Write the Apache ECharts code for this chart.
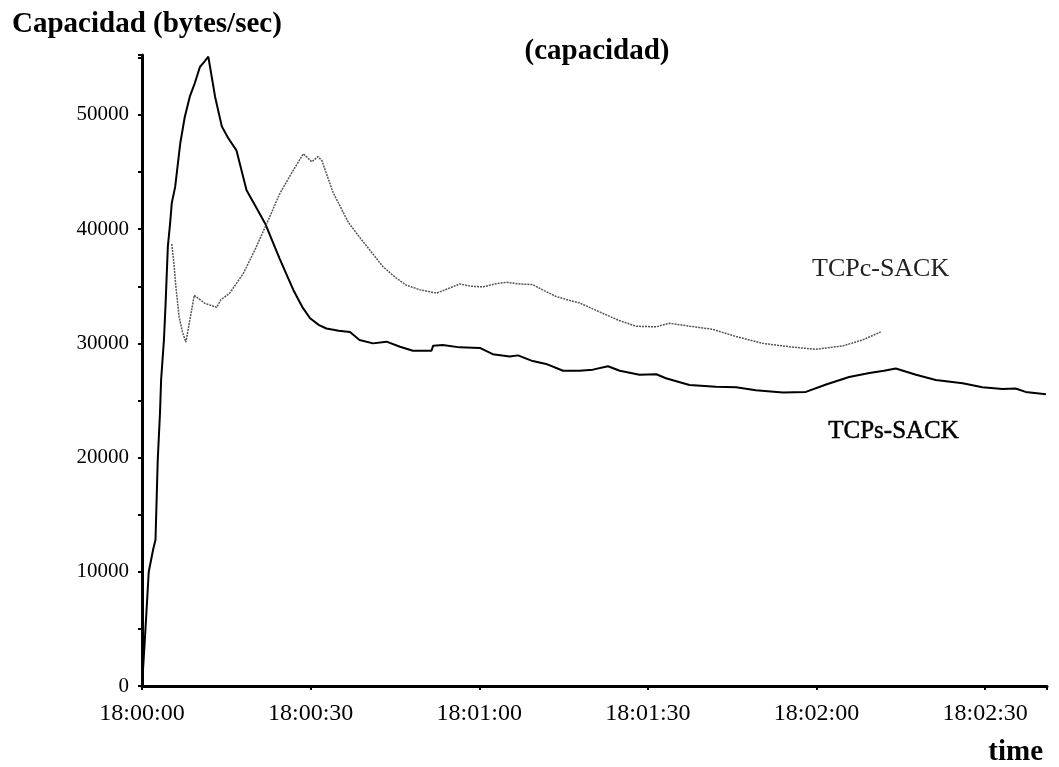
<!DOCTYPE html>
<html>
<head>
<meta charset="utf-8">
<script src="https://cdn.jsdelivr.net/npm/echarts@6/dist/echarts.min.js"></script>
<style>html,body{margin:0;padding:0;background:#fff;}#c{width:1059px;height:767px;}</style>
</head>
<body>
<div id="c"></div>
<script>
// Time in seconds after 18:00:00
const tcpsTime = [0, 0.5, 1.2, 2.0, 2.4, 2.8, 3.2, 3.4, 3.9, 4.2, 4.6, 5.0, 5.3, 5.9, 6.8, 7.6, 8.5, 9.4, 10.3, 11.0, 11.8, 13.0, 14.2, 15.3, 16.8, 18.6, 20.2, 21.9, 24.5, 26.9, 28.5, 29.9, 31.5, 32.8, 35.0, 37.0, 38.7, 41.1, 43.5, 45.9, 48.2, 51.5, 51.8, 53.5, 56.5, 60.1, 62.4, 65.4, 66.9, 69.5, 71.9, 74.9, 77.8, 80.2, 82.9, 85.0, 88.5, 91.5, 93.2, 97.4, 102.1, 105.7, 109.2, 114.0, 118.1, 121.7, 125.8, 129.4, 132.0, 134.1, 137.7, 141.2, 146.0, 149.5, 153.1, 155.4, 157.2, 160.8];
const tcpsValue = [0, 4000, 10000, 12000, 12800, 19800, 23900, 26800, 30300, 33500, 38500, 40500, 42300, 43700, 47500, 49800, 51600, 52800, 54200, 54600, 55100, 51600, 49000, 48000, 46900, 43400, 42000, 40500, 37400, 34700, 33200, 32200, 31600, 31300, 31100, 31000, 30300, 30000, 30150, 29700, 29350, 29350, 29800, 29850, 29650, 29600, 29050, 28850, 28950, 28450, 28200, 27600, 27600, 27700, 28000, 27600, 27250, 27300, 26950, 26350, 26200, 26150, 25900, 25700, 25750, 26400, 27050, 27400, 27600, 27800, 27250, 26800, 26500, 26150, 26000, 26050, 25750, 25550];

const tcpcTime = [5.3, 5.7, 6.0, 6.6, 7.2, 7.8, 9.3, 11.2, 13.3, 14.0, 15.6, 18.0, 20.1, 22.2, 24.5, 26.6, 28.7, 30.2, 31.3, 32.0, 34.0, 36.7, 38.7, 40.8, 42.9, 45.0, 47.0, 49.4, 52.4, 54.5, 56.5, 58.6, 60.7, 62.7, 64.8, 67.2, 69.5, 71.6, 73.7, 75.8, 77.8, 79.6, 81.4, 84.9, 87.9, 91.5, 93.8, 97.5, 101.5, 105.7, 110.4, 115.2, 119.9, 124.6, 128.2, 131.4];
const tcpcValue = [38700, 36900, 35100, 32300, 31000, 30100, 34200, 33500, 33150, 33800, 34400, 36100, 38200, 40500, 43100, 44900, 46600, 45900, 46350, 46000, 43200, 40600, 39300, 38000, 36700, 35800, 35100, 34700, 34400, 34800, 35200, 35000, 34950, 35200, 35350, 35200, 35150, 34600, 34100, 33800, 33550, 33150, 32750, 32000, 31500, 31450, 31760, 31500, 31230, 30600, 30000, 29700, 29480, 29770, 30300, 31000];

const seriesNames = ['TCPs-SACK', 'TCPc-SACK'];
const titleText = '(capacidad)';
const yName = 'Capacidad (bytes/sec)';
const xName = 'time';

const zip = (a, b) => a.map((t, i) => [t, b[i]]);
const serif = '"Liberation Serif", "DejaVu Serif", serif';

const chart = echarts.init(document.getElementById('c'));
chart.setOption({
  animation: false,
  backgroundColor: '#fff',
  title: [
    { text: yName, left: 7, top: 5, textStyle: { fontFamily: serif, fontWeight: 'bold', fontSize: 29, color: '#000' } },
    { text: titleText, left: 592, top: 32, textAlign: 'center', textStyle: { fontFamily: serif, fontWeight: 'bold', fontSize: 29, color: '#000' } },
    { text: xName, right: 11, top: 733, textStyle: { fontFamily: serif, fontWeight: 'bold', fontSize: 29, color: '#000' } }
  ],
  grid: { left: 142, right: 12, top: 55, bottom: 81, containLabel: false },
  xAxis: {
    type: 'value', min: 0, max: 161, interval: 30,
    axisLine: { lineStyle: { color: '#000', width: 3 } },
    axisTick: { show: true, length: 4, inside: false, lineStyle: { color: '#000', width: 2 } },
    splitLine: { show: false },
    axisLabel: {
      fontFamily: serif, fontSize: 24, color: '#000', margin: 16,
      formatter: function (t) {
        if (t % 30 !== 0) return '';
        const m = Math.floor(t / 60), s = t % 60;
        return '18:0' + m + ':' + (s < 10 ? '0' + s : s);
      }
    }
  },
  yAxis: {
    type: 'value', min: 0, max: 55250, interval: 5000,
    axisLine: { show: true, lineStyle: { color: '#000', width: 3 } },
    axisTick: { show: true, length: 4, lineStyle: { color: '#000', width: 2 } },
    splitLine: { show: false },
    axisLabel: {
      fontFamily: serif, fontSize: 21, color: '#000', margin: 13,
      formatter: function (v) { return v % 10000 === 0 ? String(v) : ''; }
    }
  },
  series: [
    {
      name: seriesNames[0], type: 'line', data: zip(tcpsTime, tcpsValue),
      showSymbol: false, lineStyle: { color: '#000', width: 2 }
    },
    {
      name: seriesNames[1], type: 'line', data: zip(tcpcTime, tcpcValue),
      showSymbol: false, lineStyle: { color: '#555', width: 1.5, type: [2, 1] }
    }
  ],
  graphic: [
    { type: 'text', left: 812, top: 256, style: { text: seriesNames[1], font: '26px ' + serif, fill: '#222' } },
    { type: 'text', left: 828, top: 419, style: { text: seriesNames[0], font: '25px ' + serif, fill: '#000', stroke: '#000', lineWidth: 0.5 } }
  ]
});
</script>
</body>
</html>
